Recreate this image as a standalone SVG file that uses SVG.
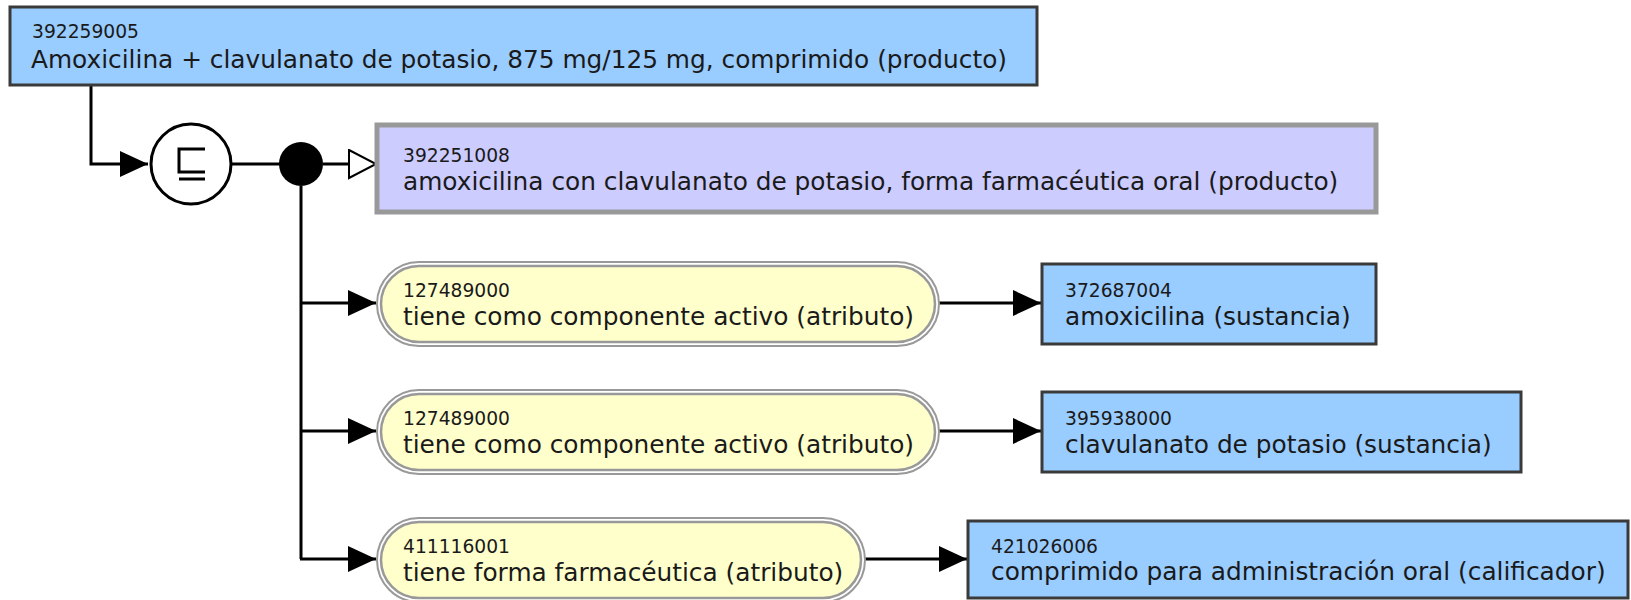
<svg xmlns="http://www.w3.org/2000/svg" width="1631" height="600" viewBox="0 0 1631 600">
<style>
  text { font-family: "DejaVu Sans", "Liberation Sans", sans-serif; fill: #1a1a1a; }
  .id { font-size: 18.7px; }
  .lbl { font-size: 24.8px; }
  .concept { fill: #99ccff; stroke: #3a3a3a; stroke-width: 3; }
  .prim { fill: #ccccff; stroke: #999999; stroke-width: 5; }
  .attrOuter { fill: #ffffff; stroke: #999999; stroke-width: 2; }
  .attrInner { fill: #ffffcc; stroke: #999999; stroke-width: 2.5; }
  .edge { fill: none; stroke: #000000; stroke-width: 3; }
</style>
<defs>
  <marker id="arrow" markerUnits="userSpaceOnUse" markerWidth="30" markerHeight="28" refX="28" refY="13" orient="auto">
    <path d="M0,0 L28,13 L0,26 Z" fill="#000000"/>
  </marker>
  <marker id="hollow" markerUnits="userSpaceOnUse" markerWidth="32" markerHeight="32" refX="28" refY="15" orient="auto">
    <path d="M1,1 L28,15 L1,29 Z" fill="#ffffff" stroke="#000000" stroke-width="2"/>
  </marker>
</defs>

<g id="connectors">
  <path class="edge" d="M91,85 V164 H148" marker-end="url(#arrow)"/>
  <path class="edge" d="M232,164 H280"/>
  <path class="edge" d="M323,164 H376" marker-end="url(#hollow)"/>
  <path class="edge" d="M301,186 V559"/>
  <path class="edge" d="M300,303 H376" marker-end="url(#arrow)"/>
  <path class="edge" d="M300,431 H376" marker-end="url(#arrow)"/>
  <path class="edge" d="M300,559 H376" marker-end="url(#arrow)"/>
  <path class="edge" d="M939,303 H1041" marker-end="url(#arrow)"/>
  <path class="edge" d="M939,431 H1041" marker-end="url(#arrow)"/>
  <path class="edge" d="M865,559 H967" marker-end="url(#arrow)"/>
</g>

<g id="n392259005">
  <rect class="concept" x="10" y="7" width="1027" height="78"/>
  <text class="id" x="32" y="38">392259005</text>
  <text class="lbl" x="31" y="68">Amoxicilina + clavulanato de potasio, 875 mg/125 mg, comprimido (producto)</text>
</g>

<g id="subsumption">
  <circle cx="191" cy="164" r="40" fill="#ffffff" stroke="#000000" stroke-width="3"/>
  <path d="M205,149 H179 V172 H205 M179,179 H205" fill="none" stroke="#000000" stroke-width="3"/>
</g>

<g id="conjunction">
  <circle cx="301" cy="164" r="22" fill="#000000"/>
</g>

<g id="n392251008">
  <rect class="prim" x="377" y="125" width="999" height="87"/>
  <text class="id" x="403" y="162">392251008</text>
  <text class="lbl" x="403" y="190">amoxicilina con clavulanato de potasio, forma farmacéutica oral (producto)</text>
</g>

<g id="attr1">
  <rect class="attrOuter" x="377" y="262" width="562" height="84" rx="42" ry="42"/>
  <rect class="attrInner" x="381" y="266" width="554" height="76" rx="38" ry="38"/>
  <text class="id" x="403" y="297">127489000</text>
  <text class="lbl" x="403" y="325">tiene como componente activo (atributo)</text>
</g>

<g id="n372687004">
  <rect class="concept" x="1042" y="264" width="334" height="80"/>
  <text class="id" x="1065" y="297">372687004</text>
  <text class="lbl" x="1065" y="325">amoxicilina (sustancia)</text>
</g>

<g id="attr2">
  <rect class="attrOuter" x="377" y="390" width="562" height="84" rx="42" ry="42"/>
  <rect class="attrInner" x="381" y="394" width="554" height="76" rx="38" ry="38"/>
  <text class="id" x="403" y="425">127489000</text>
  <text class="lbl" x="403" y="453">tiene como componente activo (atributo)</text>
</g>

<g id="n395938000">
  <rect class="concept" x="1042" y="392" width="479" height="80"/>
  <text class="id" x="1065" y="425">395938000</text>
  <text class="lbl" x="1065" y="453">clavulanato de potasio (sustancia)</text>
</g>

<g id="attr3">
  <rect class="attrOuter" x="377" y="518" width="488" height="84" rx="42" ry="42"/>
  <rect class="attrInner" x="381" y="522" width="480" height="76" rx="38" ry="38"/>
  <text class="id" x="403" y="553">411116001</text>
  <text class="lbl" x="403" y="581">tiene forma farmacéutica (atributo)</text>
</g>

<g id="n421026006">
  <rect class="concept" x="968" y="521" width="660" height="77"/>
  <text class="id" x="991" y="553">421026006</text>
  <text class="lbl" x="991" y="580">comprimido para administración oral (calificador)</text>
</g>
</svg>
